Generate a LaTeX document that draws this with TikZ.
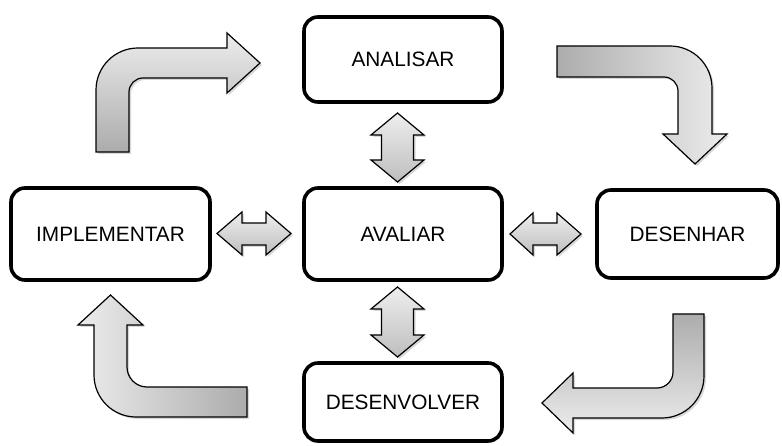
\documentclass[tikz,border=0pt]{standalone}
\usepackage{fontspec}
\setmainfont{Liberation Sans}
\usetikzlibrary{shadows}
\definecolor{tailc}{RGB}{172,172,172}
\definecolor{headc}{RGB}{236,236,236}
\definecolor{dlight}{RGB}{238,238,238}
\definecolor{ddark}{RGB}{190,190,190}
\tikzset{
  box/.style={draw=black, line width=3.6pt, rounded corners=14pt, fill=white,
    font=\fontsize{20.8}{24}\selectfont,
    drop shadow={shadow xshift=1.5pt, shadow yshift=-1.5pt, fill=black!25, opacity=0.6}},
  bent/.style={draw=black, line width=1.2pt, line join=miter,
    drop shadow={shadow xshift=2pt, shadow yshift=-2pt, fill=black!30, opacity=0.5}},
  dbl/.style={draw=black, line width=1.2pt, top color=dlight, bottom color=ddark,
    drop shadow={shadow xshift=2pt, shadow yshift=-2pt, fill=black!30, opacity=0.5}}
}
\begin{document}
\begin{tikzpicture}[x=1pt,y=-1pt]
\useasboundingbox (0,0) rectangle (782,446);

% boxes
\node[box, minimum width=198pt, minimum height=85pt] (ana) at (403,59.5) {ANALISAR};
\node[box, minimum width=199pt, minimum height=92pt] (imp) at (110.5,234) {IMPLEMENTAR};
\node[box, minimum width=198pt, minimum height=92pt] (ava) at (403,234) {AVALIAR};
\node[box, minimum width=181pt, minimum height=88pt] (des) at (687.5,234) {DESENHAR};
\node[box, minimum width=198pt, minimum height=78pt] (dev) at (403,402) {DESENVOLVER};

% bent arrows
% top-left (IMPLEMENTAR -> ANALISAR)
\path[bent, top color=headc, bottom color=tailc]
  (96,152) -- (96,90) .. controls (96,66.8) and (114.8,48) .. (138,48)
  -- (227,48) -- (227,33) -- (260,63) -- (227,93) -- (227,78)
  -- (143,78) .. controls (135.3,78) and (129,84.3) .. (129,92)
  -- (129,152) -- cycle;

% top-right (ANALISAR -> DESENHAR)
\path[bent, left color=tailc, right color=headc]
  (557,46) -- (670,46) .. controls (693.2,46) and (712,64.8) .. (712,88)
  -- (712,134) -- (727,134) -- (695,164) -- (663,134) -- (678,134)
  -- (678,91) .. controls (678,83.3) and (671.7,77) .. (664,77)
  -- (557,77) -- cycle;

% bottom-right (DESENHAR -> DESENVOLVER)
\path[bent, top color=tailc, bottom color=headc]
  (673,314) -- (704,314) -- (704,376) .. controls (704,399.2) and (685.2,418) .. (662,418)
  -- (573,418) -- (573,433) -- (542,403) -- (573,373) -- (573,388)
  -- (657,388) .. controls (665.8,388) and (673,380.8) .. (673,372) -- cycle;

% bottom-left (DESENVOLVER -> IMPLEMENTAR)
\path[bent, left color=headc, right color=tailc]
  (247,387) -- (147,387) .. controls (136,387) and (127,378) .. (127,367)
  -- (127,325) -- (143,325) -- (110.5,295) -- (78,325) -- (94,325)
  -- (94,375) .. controls (94,398.2) and (112.8,417) .. (136,417)
  -- (247,417) -- cycle;

% double arrows
\path[dbl] (217,233.5) -- (242,212) -- (242,223) -- (266,223) -- (266,212)
  -- (291,233.5) -- (266,255) -- (266,245) -- (242,245) -- (242,255) -- cycle;
\path[dbl] (510,234) -- (533,213) -- (533,223) -- (557,223) -- (557,213)
  -- (581,234) -- (557,255) -- (557,245) -- (533,245) -- (533,255) -- cycle;
\path[dbl] (397.5,113) -- (424,135) -- (413.5,135) -- (413.5,160) -- (424,160)
  -- (397.5,182) -- (371,160) -- (381.5,160) -- (381.5,135) -- (371,135) -- cycle;
\path[dbl] (397.5,287) -- (424,309) -- (413.5,309) -- (413.5,335) -- (424,335)
  -- (397.5,357) -- (371,335) -- (381.5,335) -- (381.5,309) -- (371,309) -- cycle;
\end{tikzpicture}
\end{document}
